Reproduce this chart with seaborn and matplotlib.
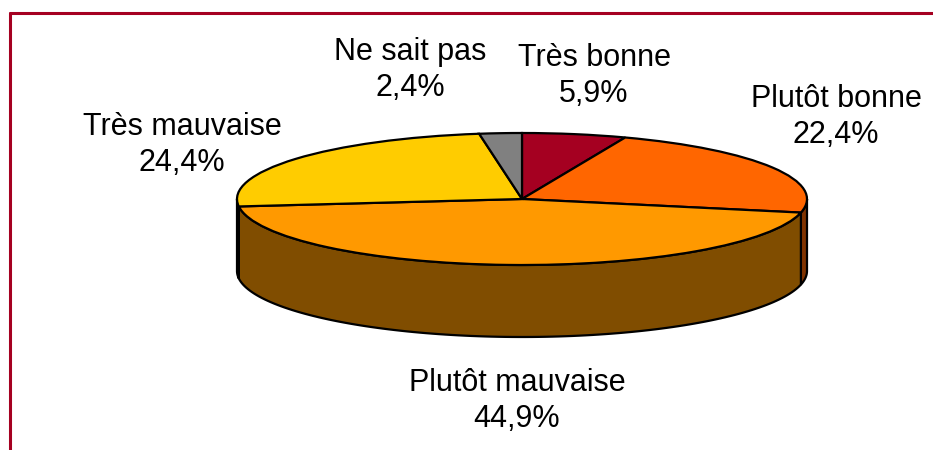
import numpy as np
import matplotlib.pyplot as plt
import seaborn as sns
from matplotlib.colors import to_rgb
from matplotlib.lines import Line2D

categories = ['Très bonne', 'Plutôt bonne', 'Plutôt mauvaise', 'Très mauvaise', 'Ne sait pas']
shares = [5.9, 22.4, 44.9, 24.4, 2.4]
colors = ['#A50021', '#FF6600', '#FF9900', '#FFCC00', '#808080']
# label centres in pixels (layout only)
label_pos = [(594, 76), (836, 117), (517, 401), (182, 145), (410, 70)]

sns.set_theme(style='white')
plt.rcParams['font.family'] = ['Liberation Sans', 'DejaVu Sans']

W, H = 933, 450
fig = plt.figure(figsize=(W / 100, H / 100), dpi=100)
ax = fig.add_axes([0, 0, 1, 1])

# pie geometry in pixels: centre, radii of the top ellipse, wall height
cx, cy, rx, ry, depth = 522, 199, 285, 66, 72
d = depth / ry

# side walls, only the front half (angles between -180 and 0) is visible
total = sum(shares)
cum = np.cumsum([0] + shares)
for i, c in enumerate(colors):
    start = 90 - cum[i] / total * 360
    end = 90 - cum[i + 1] / total * 360
    lo, hi = max(end, -180), min(start, 0)
    if lo >= hi:
        continue
    t = np.radians(np.linspace(lo, hi, 120))
    xs = np.concatenate([np.cos(t), np.cos(t[::-1])])
    ys = np.concatenate([np.sin(t), np.sin(t[::-1]) - d])
    dark = np.array(to_rgb(c)) * 0.5
    ax.fill(xs, ys, facecolor=dark, edgecolor='black', linewidth=1.6, zorder=1)

# top face
ax.pie(shares, colors=colors, startangle=90, counterclock=False,
       radius=1, center=(0, 0),
       wedgeprops=dict(edgecolor='black', linewidth=1.6, zorder=2))

ax.set_aspect('auto')
ax.set_xlim(-cx / rx, (W - cx) / rx)
ax.set_ylim((cy - H) / ry, cy / ry)
ax.axis('off')

for cat, share, (px, py) in zip(categories, shares, label_pos):
    txt = f'{cat}\n{share:.1f}%'.replace('.', ',')
    fig.text(px / W, 1 - py / H, txt, ha='center', va='center',
             multialignment='center', fontsize=22, linespacing=1.3, color='black')

# frame (top and left edges only)
frame_col = '#A50021'
fig.add_artist(Line2D([10 / W, 1], [1 - 13 / H, 1 - 13 / H], color=frame_col,
                      linewidth=2.2, transform=fig.transFigure))
fig.add_artist(Line2D([10 / W, 10 / W], [0, 1 - 13 / H], color=frame_col,
                      linewidth=2.2, transform=fig.transFigure))

fig.savefig('out.png', dpi=100, facecolor='white')
